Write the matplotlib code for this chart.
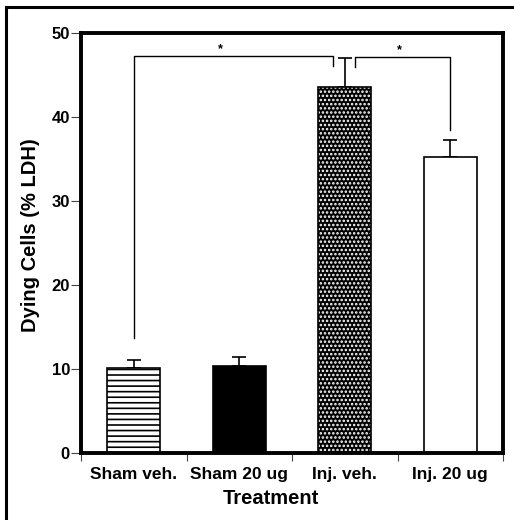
import matplotlib
matplotlib.use("Agg")
import matplotlib.pyplot as plt
from matplotlib.lines import Line2D

plt.rcParams['font.family'] = ['Liberation Sans', 'DejaVu Sans']
plt.rcParams['font.weight'] = 'bold'
plt.rcParams['hatch.linewidth'] = 1.2

categories = ["Sham veh.", "Sham 20 ug", "Inj. veh.", "Inj. 20 ug"]
means = [10.15, 10.4, 43.6, 35.2]
errors = [0.95, 1.0, 3.4, 2.1]
y_ticks = [0, 10, 20, 30, 40, 50]

fig = plt.figure(figsize=(5.14, 5.2), dpi=100)
ax = fig.add_axes([81/514, 1-453/520, 422/514, 420/520])

x = list(range(len(categories)))
w = 0.5
# bar 1: horizontal stripes
ax.bar(x[0], means[0], w, facecolor='white', edgecolor='black', hatch='---', linewidth=1.2, zorder=2)
# bar 2: solid black
ax.bar(x[1], means[1], w, facecolor='black', edgecolor='black', linewidth=1.2, zorder=2)
# bar 3: black with white dots
ax.bar(x[2], means[2], w, facecolor='black', edgecolor='white', hatch='....', linewidth=0, zorder=2)
ax.bar(x[2], means[2], w, fill=False, edgecolor='black', linewidth=1.2, zorder=3)
# bar 4: white
ax.bar(x[3], means[3], w, facecolor='white', edgecolor='black', linewidth=1.2, zorder=2)

ax.errorbar(x, means, yerr=[[0]*4, errors], fmt='none', ecolor='black',
            elinewidth=1.2, capsize=5, capthick=1.2, zorder=1)

# significance brackets
lw = 1.0
y1 = 47.3
ax.plot([x[0], x[0], x[2]-0.11, x[2]-0.11], [13.7, y1, y1, 46.1], color='black', lw=lw, zorder=1)
ax.text(0.82, y1 + 0.1, '*', ha='center', va='bottom', fontsize=9)
y2 = 47.2
ax.plot([x[2]+0.1, x[2]+0.1, x[3], x[3]], [46.0, y2, y2, 38.5], color='black', lw=lw, zorder=1)
ax.text(2.52, y2 + 0.1, '*', ha='center', va='bottom', fontsize=9)

ax.set_xlim(-0.5, 3.5)
ax.set_ylim(0, 50)
ax.set_yticks(y_ticks)
ax.set_yticklabels([str(t) for t in y_ticks], fontsize=12, fontweight='bold')
ax.tick_params(axis='y', direction='out', length=7, width=0.8, pad=1, color='#444444')
ax.set_xticks(x)
ax.set_xticklabels(categories, fontsize=12.5, fontweight='bold')
ax.tick_params(axis='x', which='major', length=0, pad=10)
ax.set_xticks([-0.5, 0.5, 1.5, 2.5, 3.5], minor=True)
ax.tick_params(axis='x', which='minor', direction='out', length=6, width=0.8, color='#444444')

for s in ax.spines.values():
    s.set_linewidth(2.8)

ax.set_ylabel('Dying Cells (% LDH)', fontsize=14.5, fontweight='bold', labelpad=8)
ax.set_xlabel('Treatment', fontsize=14.5, fontweight='bold', labelpad=5)
ax.yaxis.label.set_y(0.519)
ax.xaxis.label.set_x(0.45)

# outer frame (left and top edges visible)
fig.add_artist(Line2D([6/514, 6/514], [0, 1-7/520], transform=fig.transFigure, color='black', lw=2.2))
fig.add_artist(Line2D([6/514, 1], [1-7/520, 1-7/520], transform=fig.transFigure, color='black', lw=2.2))

fig.savefig('out.png', dpi=100)
